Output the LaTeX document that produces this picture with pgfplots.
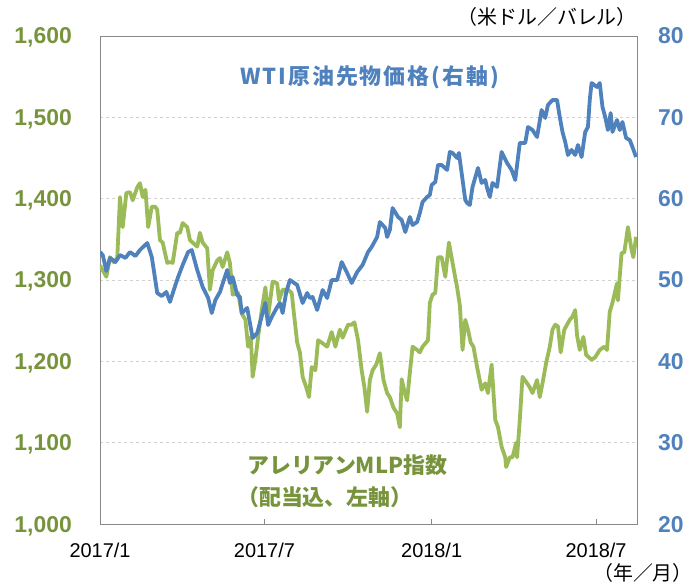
\documentclass[border=0pt]{standalone}
\usepackage{pgfplots}
\pgfplotsset{compat=1.18}
\usepackage{fontspec}
\setmainfont{Liberation Sans}
\newfontfamily\jp{Noto Sans CJK JP}
\newfontfamily\jpsp{Noto Sans CJK JP}[LetterSpace=9]
\definecolor{mlp}{HTML}{9BBB59}
\definecolor{mlptext}{HTML}{77933C}
\definecolor{wti}{HTML}{4F81BD}
\definecolor{framec}{HTML}{898989}
\definecolor{gridc}{HTML}{D0D0D0}
\pgfplotstableread{
day val
0 1318
3 1312
7 1304
11 1328
15 1322
19 1327
22 1402
25 1365
29 1407
33 1408
36 1398
41 1414
44 1419
47 1402
50 1411
53 1365
57 1390
61 1390
63 1386
66 1349
69 1346
74 1321
77 1322
80 1321
85 1358
88 1358
91 1370
96 1365
99 1349
102 1346
107 1341
110 1358
113 1346
118 1339
121 1288
124 1312
129 1324
132 1327
135 1316
140 1334
143 1321
146 1282
152 1284
156 1259
160 1251
163 1218
166 1230
168 1181
171 1202
174 1230
178 1263
182 1291
185 1255
190 1298
195 1296
197 1275
201 1288
207 1288
211 1284
213 1263
217 1223
220 1211
223 1181
227 1168
230 1156
233 1193
237 1189
240 1226
244 1223
250 1218
255 1236
259 1218
264 1239
267 1229
273 1245
277 1245
280 1248
284 1226
288 1189
291 1168
294 1138
297 1177
300 1189
304 1196
308 1210
312 1177
316 1161
319 1156
323 1143
327 1136
330 1119
332 1178
336 1159
338 1152
341 1186
344 1218
349 1214
352 1211
355 1218
361 1226
363 1272
366 1282
369 1284
372 1328
376 1328
380 1304
384 1346
388 1321
393 1291
396 1269
399 1214
402 1251
405 1239
408 1223
411 1218
415 1193
420 1165
424 1173
427 1161
431 1196
435 1128
438 1119
442 1095
446 1082
447 1070
451 1082
454 1082
458 1100
459 1082
462 1128
465 1181
470 1173
473 1168
476 1161
481 1177
484 1156
487 1173
491 1198
495 1218
498 1239
501 1245
504 1243
507 1211
511 1239
517 1251
520 1255
523 1263
525 1232
528 1214
532 1230
535 1208
541 1202
545 1205
550 1214
555 1218
558 1214
561 1261
564 1272
569 1296
570 1275
574 1333
577 1334
579 1349
581 1365
585 1337
587 1328
590 1353
}\mlpdata
\pgfplotstableread{
day val
0 53.44
3 53.07
7 51.11
11 52.71
17 52.21
22 53.07
28 52.71
33 53.44
39 52.95
44 53.69
52 54.55
57 52.83
63 48.40
68 48.03
73 48.53
77 47.30
83 49.39
86 50.37
91 51.85
97 53.44
101 53.69
107 51.23
113 49.14
119 47.79
123 45.94
127 47.54
132 48.53
140 51.23
143 49.63
146 50.37
151 48.16
154 47.91
156 45.94
162 46.56
165 44.71
168 42.87
173 43.48
176 44.71
182 47.17
185 44.47
189 45.45
195 46.68
198 47.17
201 45.94
205 48.53
209 50.00
217 49.39
223 47.17
228 48.40
231 47.79
234 47.91
239 46.31
245 48.77
250 47.79
255 50.00
261 50.00
266 52.21
272 50.86
277 49.63
283 50.98
289 51.85
295 53.44
299 54.06
305 55.29
308 57.13
314 56.39
316 55.29
319 56.15
322 58.85
328 57.75
332 57.38
336 55.90
341 57.75
344 56.76
349 57.13
352 58.24
355 59.59
360 60.21
363 60.45
365 61.68
369 62.05
372 64.14
376 64.14
382 63.53
385 65.74
388 65.62
393 65.00
395 65.62
398 63.16
402 59.84
404 59.47
407 59.22
410 61.44
416 63.77
420 61.93
424 62.30
426 61.31
429 60.21
432 61.93
437 61.44
442 65.74
448 64.39
453 63.53
457 62.30
462 66.85
468 66.85
471 68.81
476 68.44
481 67.58
486 70.90
490 69.92
493 71.52
498 72.13
503 72.13
506 70.04
509 68.20
512 66.97
515 65.37
519 65.99
523 65.37
526 66.60
530 65.12
534 68.20
537 68.81
539 72.13
541 74.22
547 73.73
550 74.22
553 71.27
556 70.04
559 68.44
562 70.53
564 68.20
569 69.67
572 68.44
575 69.43
579 67.46
583 67.21
586 66.35
590 65.12
}\wtidata
\begin{document}
\begin{tikzpicture}
\path[use as bounding box] (-100bp,-60bp) rectangle (593bp,524bp);
\begin{axis}[
  at={(0bp,0bp)}, anchor=south west,
  scale only axis, width=537bp, height=488bp,
  xmin=0, xmax=591, ymin=1000, ymax=1600,
  xtick={0,181,365,546}, xticklabels={2017/1,2017/7,2018/1,2018/7},
  xtick pos=left, ytick pos=left, tick align=inside, major tick length=5bp,
  ytick={1000,1100,...,1600},
  ytick style={draw=none},
  xtick style={framec, line width=0.8pt},
  axis line style={framec, line width=1pt},
  ymajorgrids, grid style={gridc, dashed, line width=0.8pt},
  /pgf/number format/assume math mode=true,
  /pgf/number format/1000 sep={,},
  yticklabel style={font=\bfseries\fontsize{23}{23}\selectfont, text=mlptext, anchor=base east, inner sep=0pt, xshift=-28bp, yshift=-8bp},
  xticklabel style={font=\fontsize{20}{20}\selectfont, anchor=base, inner sep=0pt, yshift=-33bp},
]
\addplot[mlp, line width=3.8bp, line join=round] table[x=day, y=val] {\mlpdata};
\end{axis}
\begin{axis}[
  at={(0bp,0bp)}, anchor=south west,
  scale only axis, width=537bp, height=488bp,
  xmin=0, xmax=591, ymin=20, ymax=80,
  ytick={20,30,...,80},
  axis x line=none, axis y line*=right,
  ytick style={draw=none},
  axis line style={framec, line width=1pt},
  /pgf/number format/assume math mode=true,
  yticklabel style={font=\bfseries\fontsize{23}{23}\selectfont, text=wti, anchor=base west, inner sep=0pt, xshift=21bp, yshift=-8bp},
]
\addplot[wti, line width=3.8bp, line join=round] table[x=day, y=val] {\wtidata};
\end{axis}
\node[anchor=west, inner sep=0pt, text=wti, font=\jpsp\bfseries\fontsize{22}{22}\selectfont] at (140bp,447bp) {WTI原油先物価格(右軸)};
\node[anchor=west, inner sep=0pt, text=mlptext, font=\jp\bfseries\fontsize{22}{22}\selectfont] at (147bp,59bp) {アレリアンMLP指数};
\node[anchor=west, inner sep=0pt, text=mlptext, font=\jp\bfseries\fontsize{22}{22}\selectfont] at (137bp,27bp) {（配当込、左軸）};
\node[anchor=east, inner sep=0pt, font=\jp\fontsize{20}{20}\selectfont] at (537bp,507bp) {（米ドル／バレル）};
\node[anchor=east, inner sep=0pt, font=\jp\fontsize{20}{20}\selectfont] at (593bp,-49bp) {（年／月）};
\end{tikzpicture}
\end{document}
